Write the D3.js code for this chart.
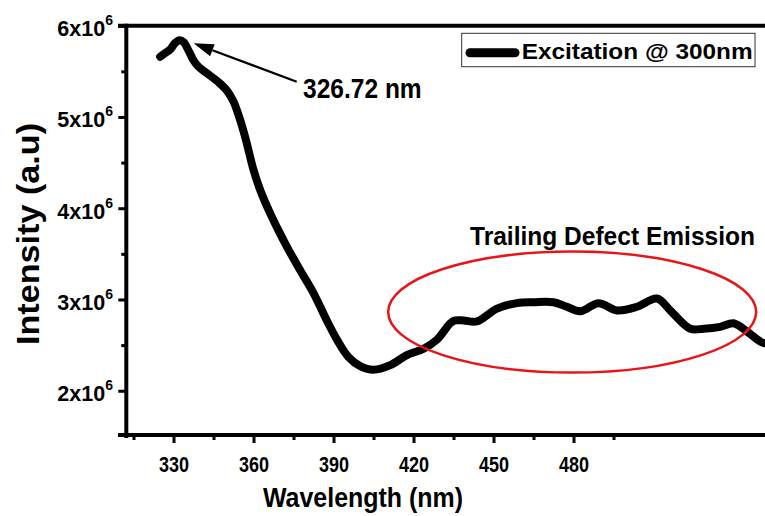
<!DOCTYPE html>
<html><head><meta charset="utf-8">
<script src="https://cdn.jsdelivr.net/npm/d3@7/dist/d3.min.js"></script>
<style>
html,body{margin:0;padding:0;background:#fff;}
svg{display:block;font-family:"Liberation Sans",Arial,Helvetica,sans-serif;font-weight:bold;}
</style></head>
<body>
<svg id="chart" width="765" height="516"></svg>
<script>
// ---- data ----
const wavelength = [325.0,326.9,328.8,330.6,332.3,333.8,335.6,337.5,339.4,342.5,346.9,350.0,352.5,354.4,356.3,357.5,360.0,362.5,366.3,369.3,372.5,377.5,382.5,387.5,391.3,395.6,400.0,405.0,411.3,417.5,423.8,428.8,433.8,435.6,438.8,443.8,451.3,458.8,465.0,472.5,477.5,482.5,489.4,496.3,503.8,511.3,516.3,523.8,528.8,535.0,540.0,545.0,550.0,553.0];
const intensity = [5.66e6,5.70e6,5.74e6,5.81e6,5.84e6,5.82e6,5.73e6,5.62e6,5.55e6,5.48e6,5.38e6,5.29e6,5.17e6,5.02e6,4.84e6,4.71e6,4.42e6,4.20e6,3.94e6,3.76e6,3.58e6,3.32e6,3.07e6,2.77e6,2.56e6,2.37e6,2.27e6,2.23e6,2.28e6,2.39e6,2.46e6,2.56e6,2.74e6,2.77e6,2.77e6,2.76e6,2.90e6,2.96e6,2.97e6,2.97e6,2.92e6,2.87e6,2.96e6,2.88e6,2.92e6,3.01e6,2.88e6,2.68e6,2.68e6,2.70e6,2.74e6,2.65e6,2.54e6,2.51e6];
const xTicks = [330,360,390,420,450,480];
const xMinorTicks = [315,345,375,405,435,465,495];
const yTicks = [2e6,3e6,4e6,5e6,6e6];
const yMinorTicks = [2.5e6,3.5e6,4.5e6,5.5e6];
const yTickMantissa = ["2x10","3x10","4x10","5x10","6x10"];
const yTickExponent = "6";
const legendLabel = "Excitation @ 300nm";
const peakLabel = "326.72 nm";
const regionLabel = "Trailing Defect Emission";
const xTitle = "Wavelength (nm)";
const yTitle = "Intensity (a.u)";
const ellipseCenter = [479.5, 2.862e6];
const ellipseHalfWidthNm = 69;
const ellipseHalfHeight = 0.663e6;

// ---- scales ----
const svg = d3.select("#chart");
const plotLeft = 126.3, plotTop = 25.7, plotBottom = 435;
const x = d3.scaleLinear().domain([312.3, 555]).range([plotLeft, plotLeft + (555-312.3)*80/30]);
const y = d3.scaleLinear().domain([1.515e6, 6e6]).range([plotBottom, plotTop]);

// clip
svg.append("clipPath").attr("id","plot").append("rect")
  .attr("x", plotLeft).attr("y", plotTop).attr("width", 765-plotLeft).attr("height", plotBottom-plotTop);

// ---- axes ----
const gx = svg.append("g").attr("transform",`translate(0,${plotBottom})`)
  .call(d3.axisBottom(x).tickValues(xTicks).tickSize(8).tickSizeOuter(0).tickFormat(d3.format("d")));
gx.select(".domain").remove();
gx.selectAll(".tick line").attr("stroke","#000").attr("stroke-width",3);
gx.selectAll(".tick text").attr("y",36.7).attr("dy",null)
  .style("font-size","22px").style("font-weight","bold").attr("fill","#000")
  .attr("textLength",30).attr("lengthAdjust","spacingAndGlyphs")
  .attr("x",-15).attr("text-anchor","start");
const gxm = svg.append("g").attr("transform",`translate(0,${plotBottom})`)
  .call(d3.axisBottom(x).tickValues(xMinorTicks).tickSize(5).tickSizeOuter(0).tickFormat(""));
gxm.select(".domain").remove();
gxm.selectAll(".tick line").attr("stroke","#000").attr("stroke-width",3);

const gy = svg.append("g").attr("transform",`translate(${plotLeft},0)`)
  .call(d3.axisLeft(y).tickValues(yTicks).tickSize(8).tickSizeOuter(0).tickFormat(""));
gy.select(".domain").remove();
gy.selectAll(".tick line").attr("stroke","#000").attr("stroke-width",3);
const gym = svg.append("g").attr("transform",`translate(${plotLeft},0)`)
  .call(d3.axisLeft(y).tickValues(yMinorTicks).tickSize(5).tickSizeOuter(0).tickFormat(""));
gym.select(".domain").remove();
gym.selectAll(".tick line").attr("stroke","#000").attr("stroke-width",3);

// y tick labels with superscript
yTicks.forEach((v,i) => {
  const t = svg.append("text").attr("x",113).attr("y",y(v)+10.5)
    .attr("text-anchor","end").attr("fill","#000");
  t.append("tspan").style("font-size","21.5px").text(yTickMantissa[i]);
  t.append("tspan").style("font-size","14px").attr("dy",-11).text(yTickExponent);
});

// axis lines (frame)
svg.append("line").attr("x1",plotLeft).attr("x2",plotLeft).attr("y1",plotTop-2).attr("y2",plotBottom+3)
  .attr("stroke","#000").attr("stroke-width",4);
svg.append("line").attr("x1",118).attr("x2",770).attr("y1",plotBottom).attr("y2",plotBottom)
  .attr("stroke","#000").attr("stroke-width",4);
svg.append("line").attr("x1",118).attr("x2",770).attr("y1",plotTop).attr("y2",plotTop)
  .attr("stroke","#000").attr("stroke-width",4);

// titles
svg.append("text").attr("x",263).attr("y",506.5).style("font-size","28px")
  .attr("textLength",200).attr("lengthAdjust","spacingAndGlyphs").attr("fill","#000").text(xTitle);
svg.append("text").attr("transform","translate(38.5,345) rotate(-90)")
  .style("font-size","32px").attr("textLength",222).attr("lengthAdjust","spacingAndGlyphs")
  .attr("fill","#000").text(yTitle);

// ---- curve ----
const pts = wavelength.map((w,i)=>[w,intensity[i]]);
const line = d3.line().x(d=>x(d[0])).y(d=>y(d[1])).curve(d3.curveCatmullRom.alpha(0.5));
svg.append("path").datum(pts).attr("clip-path","url(#plot)")
  .attr("d",line).attr("fill","none").attr("stroke","#000")
  .attr("stroke-width",8).attr("stroke-linejoin","round").attr("stroke-linecap","round");

// ---- annotations ----
const ex = x(ellipseCenter[0]), ey = y(ellipseCenter[1]);
svg.append("ellipse").attr("cx",ex).attr("cy",ey)
  .attr("rx", x(ellipseCenter[0]+ellipseHalfWidthNm)-ex)
  .attr("ry", y(ellipseCenter[1]-ellipseHalfHeight)-ey)
  .attr("fill","none").attr("stroke","#e8141a").attr("stroke-width",2.5);
svg.append("text").attr("x",470).attr("y",245).style("font-size","25px")
  .attr("textLength",285).attr("lengthAdjust","spacingAndGlyphs").attr("fill","#000").text(regionLabel);

// peak arrow
const pi = d3.maxIndex(intensity);
const tip = [x(wavelength[pi])+14, y(intensity[pi])+3];
const tail = [296.7, 81.7];
const ang = Math.atan2(tip[1]-tail[1], tip[0]-tail[0]);
const hl = 20, hw = 6.5;
const bx = tip[0]-hl*Math.cos(ang), by = tip[1]-hl*Math.sin(ang);
svg.append("line").attr("x1",tail[0]).attr("y1",tail[1]).attr("x2",bx).attr("y2",by)
  .attr("stroke","#000").attr("stroke-width",2.2);
svg.append("path").attr("d",
  `M${tip[0]},${tip[1]} L${bx+hw*Math.sin(ang)},${by-hw*Math.cos(ang)} L${bx-hw*Math.sin(ang)},${by+hw*Math.cos(ang)} Z`)
  .attr("fill","#000");
svg.append("text").attr("x",303).attr("y",98.3).style("font-size","27px")
  .attr("textLength",118.7).attr("lengthAdjust","spacingAndGlyphs").attr("fill","#000").text(peakLabel);

// legend
svg.append("rect").attr("x",461.7).attr("y",33.3).attr("width",293.3).attr("height",33.4)
  .attr("fill","#fff").attr("stroke","#333").attr("stroke-width",1);
svg.append("line").attr("x1",470).attr("x2",515).attr("y1",52.7).attr("y2",52.7)
  .attr("stroke","#000").attr("stroke-width",9).attr("stroke-linecap","round");
svg.append("text").attr("x",521.7).attr("y",58.5).style("font-size","22px")
  .attr("textLength",231).attr("lengthAdjust","spacingAndGlyphs").attr("fill","#000").text(legendLabel);
</script>
</body></html>
